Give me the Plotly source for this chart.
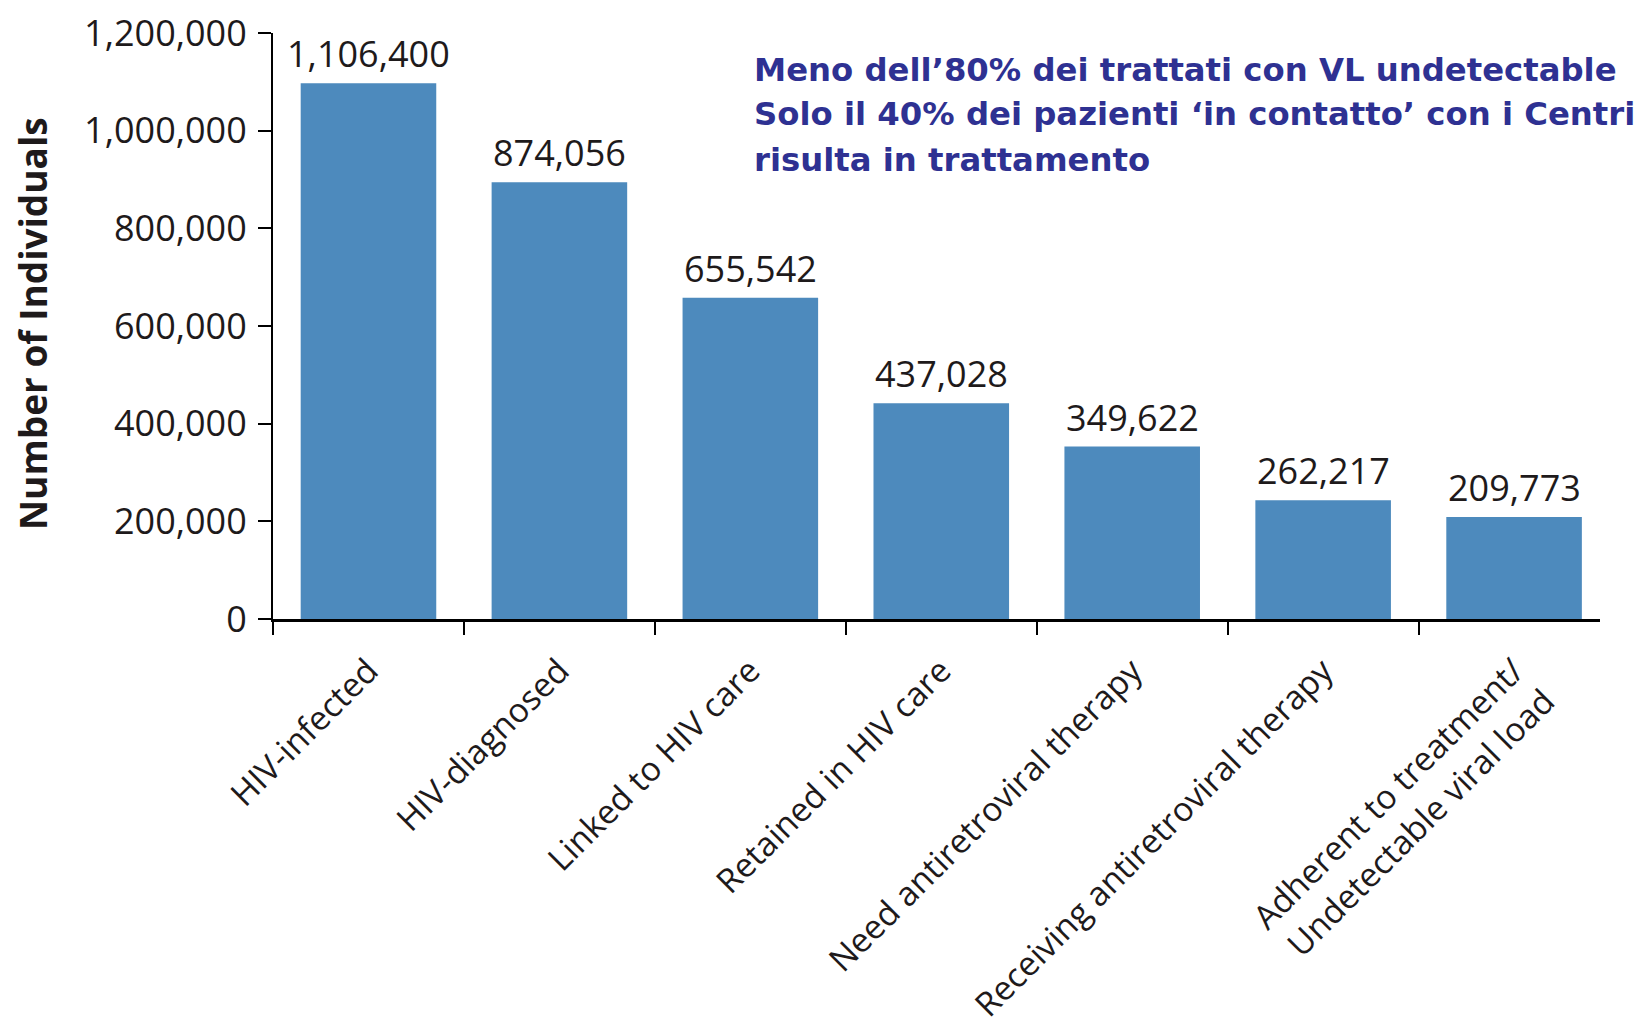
import plotly.graph_objects as go

categories = [
    "HIV-infected",
    "HIV-diagnosed",
    "Linked to HIV care",
    "Retained in HIV care",
    "Need antiretroviral therapy",
    "Receiving antiretroviral therapy",
    "Adherent to treatment/<br>Undetectable viral load",
]
# bar heights as drawn in the picture
bar_heights = [1097000, 894500, 658000, 441800, 353000, 243000, 209000]
# value labels printed above the bars
value_labels = ["1,106,400", "874,056", "655,542", "437,028", "349,622", "262,217", "209,773"]
y_ticks = [0, 200000, 400000, 600000, 800000, 1000000, 1200000]
note_lines = [
    "Meno dell\u201980% dei trattati con VL undetectable",
    "Solo il 40% dei pazienti \u2018in contatto\u2019 con i Centri",
    "risulta in trattamento",
]

TXT = "#1E1A1B"
BAR = "#4D8ABD"
NOTE = "#2E3192"

fig = go.Figure()
fig.add_trace(go.Bar(
    x=categories, y=bar_heights, width=0.71,
    marker=dict(color=BAR, line=dict(width=0)),
    hoverinfo="skip", showlegend=False,
))

# page has an 8px body margin; figure coordinates are page - 8
W, H = 1637, 1017
L, T = 265, 25
R = W - 1592
B = H - 611
pw, ph = W - L - R, H - T - B

for c, v, lab in zip(categories, bar_heights, value_labels):
    fig.add_annotation(x=c, y=v, xref="x", yref="y", text=lab, showarrow=False,
                       yanchor="bottom", xanchor="center", yshift=3,
                       font=dict(family="Open Sans", size=36, color=TXT))

fig.add_annotation(xref="paper", yref="paper", x=(25 - L) / pw, y=(611 - 316) / ph,
                   text="<b>Number of Individuals</b>", textangle=-90, showarrow=False,
                   xanchor="center", yanchor="middle",
                   font=dict(family="Open Sans", size=37, color=TXT))

note_y = [62, 106, 152]
for line, yy in zip(note_lines, note_y):
    fig.add_annotation(xref="paper", yref="paper", x=(744 - L) / pw, y=(611 - yy) / ph,
                       text="<b>" + line + "</b>", showarrow=False,
                       xanchor="left", yanchor="middle", align="left",
                       font=dict(family="DejaVu Sans", size=32.3, color=NOTE))

fig.update_layout(
    width=W, height=H,
    margin=dict(l=L, r=R, t=T, b=B, pad=0, autoexpand=False),
    plot_bgcolor="white", paper_bgcolor="white",
    xaxis=dict(
        range=[-0.5, 6.45], tickson="boundaries", ticks="outside", ticklen=13,
        tickwidth=2, tickcolor="black", showline=True, linecolor="black", linewidth=2.5,
        tickangle=-45, tickfont=dict(family="Open Sans", size=33.5, color=TXT),
        ticklabelstandoff=16, automargin=False, ticklabeloverflow="allow",
        showgrid=False, zeroline=False,
    ),
    yaxis=dict(
        range=[0, 1200000], tickvals=y_ticks, tickformat=",", ticks="outside", ticklen=13,
        tickwidth=2, tickcolor="black", showline=True, linecolor="black", linewidth=2,
        tickfont=dict(family="Open Sans", size=36, color=TXT), ticklabelstandoff=4,
        ticklabeloverflow="allow",
        automargin=False, showgrid=False, zeroline=False,
    ),
)

fig.write_html("out.html")
